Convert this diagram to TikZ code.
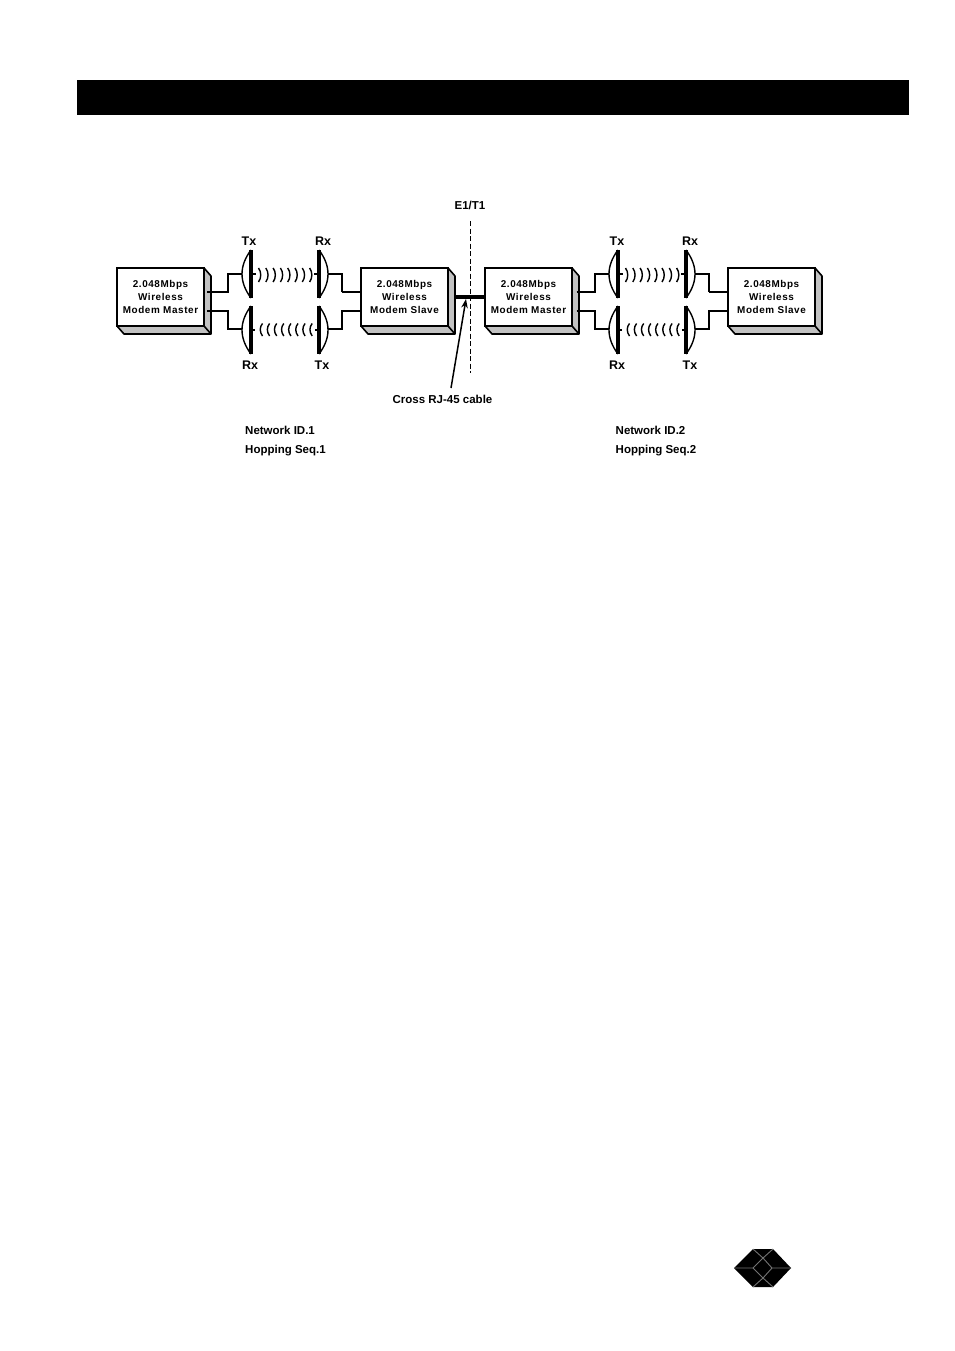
\documentclass[tikz,border=0pt]{standalone}
\usepackage{fontspec}
\setmainfont{Liberation Sans}
\newfontfamily\boxfont[LetterSpace=6]{Liberation Sans}
\usetikzlibrary{arrows.meta}
\tikzset{
  x=1pt,y=-1pt,
  modem/.style={draw=black,line width=1.6pt,fill=white,minimum width=87pt,minimum height=58pt,inner sep=0pt,outer sep=0pt,anchor=north west,align=center,font=\boxfont\bfseries\fontsize{9.9}{12.7}\selectfont},
  side/.style={draw=black,line width=1.6pt,fill=black!24,line join=round},
  wire/.style={draw=black,line width=1.2pt},
  portline/.style={draw=black,line width=2pt},
  flat/.style={draw=black,line width=3.4pt},
  bowl/.style={draw=black,line width=1.4pt},
  wave/.style={draw=black,line width=1.4pt},
  lbl/.style={inner sep=0pt,font=\bfseries\fontsize{11.5}{13}\selectfont},
  lblw/.style={lbl,anchor=west}
}
\newcommand{\modembox}[5]{%
  \fill[black!24] (#2,268) -- ++(87,0) -- ++(7,8) -- ++(0,58) -- ++(-87,0) -- ++(-7,-8) -- cycle;
  \draw[side] (#2,268) ++(87,0) -- ++(7,8) -- ++(0,58) -- ++(-87,0) -- ++(-7,-8);
  \draw[side] (#2,268) ++(87,58) -- ++(7,8);
  \node[modem] (#1) at (#2,268) {\raisebox{#3pt}{\parbox{87pt}{\centering #4\\Wireless\\#5}}};
}
\newcommand{\hoplink}[2]{%
  \begin{scope}[xshift=#2pt]
    \coordinate (#1ta) at (251,274); \coordinate (#1ra) at (319,274);
    \coordinate (#1tb) at (251,330); \coordinate (#1rb) at (319,330);
    \coordinate (#1la) at (242,274); \coordinate (#1lb) at (242,329);
    \coordinate (#1ma) at (328,274); \coordinate (#1mb) at (328,329);
    \draw[wire] (228,292) |- (#1la);
    \draw[wire] (228,310) |- (#1lb);
    \draw[wire] (342,292) |- (#1ma);
    \draw[wire] (342,310) |- (#1mb);
    \draw[bowl] (251,250) .. controls (245,258) and (242,266) .. (242,274) .. controls (242,282) and (245,290) .. (251,298);
    \draw[bowl] (251,306) .. controls (245,314) and (242,322) .. (242,330) .. controls (242,338) and (245,346) .. (251,354);
    \draw[bowl] (319,250) .. controls (325,258) and (328,266) .. (328,274) .. controls (328,282) and (325,290) .. (319,298);
    \draw[bowl] (319,306) .. controls (325,314) and (328,322) .. (328,330) .. controls (328,338) and (325,346) .. (319,354);
    \draw[flat] (251,250) -- (251,298);
    \draw[flat] (251,306) -- (251,354);
    \draw[flat] (319,250) -- (319,298);
    \draw[flat] (319,306) -- (319,354);
    \draw[wave] (#1ta) -- ++(5,0);
    \draw[wave] (#1ra) -- ++(-5,0);
    \draw[wave] (#1tb) -- ++(4,0);
    \draw[wave] (#1rb) -- ++(-4,0);
    \foreach \i in {0,...,7} {
      \draw[wave] (258.5+7.3*\i,268) .. controls (261.5+7.3*\i,272) and (261.5+7.3*\i,278) .. (258.5+7.3*\i,282);
      \draw[wave] (262.5+7.1*\i,323.5) .. controls (259.5+7.1*\i,327) and (259.5+7.1*\i,332) .. (262.5+7.1*\i,336);
    }
  \end{scope}
}
\newcommand{\hopports}[3]{%
  \begin{scope}[xshift=#2pt]
    \coordinate (#1pa) at (#3,291.5); \coordinate (#1pb) at (#3,310.5);
    \coordinate (#1qa) at (361,291.5); \coordinate (#1qb) at (361,310.5);
    \coordinate (#1ua) at (228.5,291.5); \coordinate (#1ub) at (228.5,310.5);
    \coordinate (#1va) at (341.5,291.5); \coordinate (#1vb) at (341.5,310.5);
    \draw[portline] (#1pa) -- (#1ua);
    \draw[portline] (#1pb) -- (#1ub);
    \draw[portline] (#1va) -- (#1qa);
    \draw[portline] (#1vb) -- (#1qb);
  \end{scope}
}
\begin{document}
\begin{tikzpicture}
\useasboundingbox (0,0) rectangle (954,1351);
\fill[white] (0,0) rectangle (954,1351);
\node[fill=black,minimum width=832pt,minimum height=35pt,inner sep=0pt,anchor=north west] (bar) at (77,80) {};

\hoplink{a}{0}
\hoplink{b}{367}
\modembox{m1}{117}{0}{2.048Mbps}{Modem Master}
\modembox{m2}{361}{0}{2.048Mbps}{Modem Slave}
\modembox{m3}{485}{0}{2.048Mbps}{Modem Master}
\modembox{m4}{728}{-5}{2.048Mbps}{Modem Slave}
\hopports{a}{0}{207}
\hopports{b}{367}{209.5}

\draw[draw=black,line width=3.4pt] (455,297) -- (m3.west |- 0,297);
\coordinate (cutA) at (470,221); \coordinate (cutB) at (470,373);
\draw[black,line width=0.8pt,dash pattern=on 5pt off 2.5pt] (cutA) -- (cutB);
\node[lbl] (e1) at (470,205) {E1/T1};

\foreach \n/\t/\x/\y in {t1/Tx/249/241,r1/Rx/323/241,r2/Rx/250/365,t2/Tx/322/365,t3/Tx/617/241,r3/Rx/690/241,r4/Rx/617/365,t4/Tx/690/365}
  \node[lbl,font=\bfseries\fontsize{12.5}{14}\selectfont] (\n) at (\x,\y) {\t};

\node[lbl] (cross) at (442.5,399) {Cross RJ-45 cable};
\coordinate (cabletip) at (466,299);
\draw[black,line width=1.5pt,-{Stealth[length=9pt,width=6.5pt]}] (451,388) -- (cabletip);

\node[lblw] (n1) at (245,430) {Network ID.1};
\node[lblw] (h1) at (245,451) {Hopping Seq.1};
\node[lblw] (n2) at (615.5,430) {Network ID.2};
\node[lblw] (h2) at (615.5,451) {Hopping Seq.2};

\fill[black] (734,1268) -- (753,1249) -- (773,1249) -- (791,1268) -- (773,1287) -- (753,1287) -- cycle;
\draw[black!55,line width=0.9pt] (734,1268) -- (753,1268) -- (763,1258) -- (772,1268) -- (791,1268);
\draw[black!55,line width=0.9pt] (753,1268) -- (763,1278) -- (772,1268);
\draw[black!55,line width=0.9pt] (753,1249) -- (763,1258) -- (773,1249);
\draw[black!55,line width=0.9pt] (753,1287) -- (763,1278) -- (773,1287);
\end{tikzpicture}
\end{document}
